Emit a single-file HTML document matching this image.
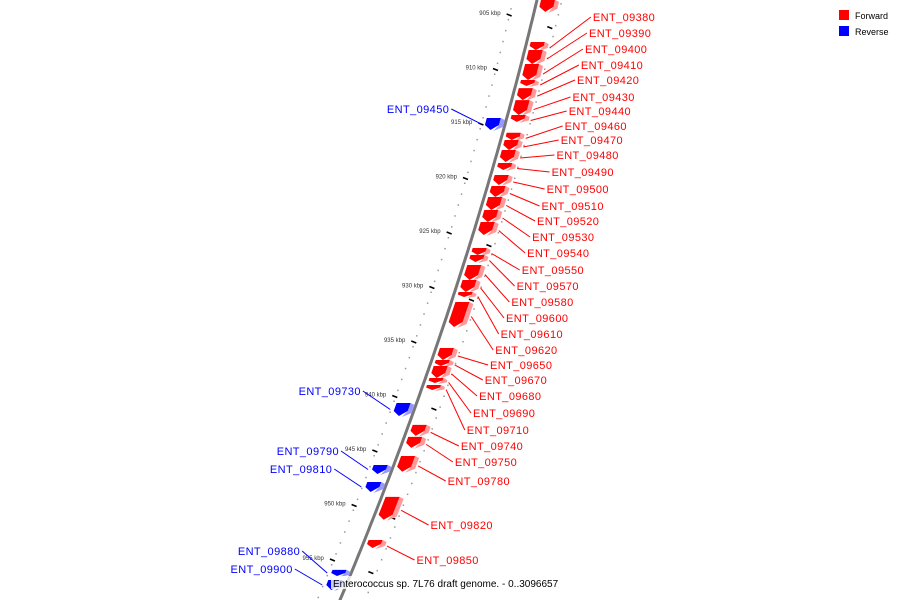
<!DOCTYPE html>
<html><head><meta charset="utf-8"><style>
html,body{margin:0;padding:0;background:#fff;}
svg{display:block;font-family:"Liberation Sans","DejaVu Sans",sans-serif;}
</style></head><body>
<svg id="chart" width="900" height="600" viewBox="0 0 900 600">
<defs>
<linearGradient id="bb" x1="0" x2="1" y1="0" y2="0"><stop offset="0" stop-color="#ccc"/><stop offset="0.5" stop-color="#666"/><stop offset="1" stop-color="#bbb"/></linearGradient>
</defs>
<g id="layer"></g>
<g>
<rect x="839" y="10" width="10" height="10" fill="#f00"/>
<text x="855" y="19" font-size="9" fill="#000">Forward</text>
<rect x="839" y="26" width="10" height="10" fill="#00f"/>
<text x="855" y="35" font-size="9" fill="#000">Reverse</text>
</g>
</svg>
<script>
// ---- data ----
const tickKbp = [905,910,915,920,925,930,935,940,945,950,955];
const fwdNames = ["","ENT_09380","ENT_09390","ENT_09400","ENT_09410","ENT_09420","ENT_09430","ENT_09440","ENT_09460","ENT_09470","ENT_09480","ENT_09490","ENT_09500","ENT_09510","ENT_09520","ENT_09530","ENT_09540","ENT_09550","ENT_09570","ENT_09580","ENT_09600","ENT_09610","ENT_09620","ENT_09650","ENT_09670","ENT_09680","ENT_09690","ENT_09710","ENT_09740","ENT_09750","ENT_09780","ENT_09820","ENT_09850"];
const fwdStart = [903.7,907.57,908.3,909.59,911.06,911.8,912.9,914.27,915.9,916.56,917.48,918.67,919.77,920.78,921.79,922.98,924.08,926.47,927.11,928.03,929.4,930.5,931.42,935.64,936.74,937.29,938.39,939.04,942.7,943.8,945.55,949.3,953.26];
const fwdEnd   = [904.8,908.3,909.59,911.06,911.6,912.9,914.27,914.9,916.56,917.48,918.58,919.31,920.69,921.79,922.98,924.08,925.28,927.11,927.75,929.4,930.5,930.96,933.72,936.74,937.29,938.39,938.85,939.5,943.7,944.8,947.0,951.4,953.99];
const fwdLabelY = [null,17,33,49,65,80,97,111,126,140,155,172,189,206,221,237,253,270,286,302,318,334,350,365,380,396,413,430,446,462,481,525,560];
const revNames = ["ENT_09450","ENT_09730","ENT_09790","ENT_09810","ENT_09880","ENT_09900"];
const revStart = [914.54,940.69,946.38,947.94,956.0,956.93];
const revEnd   = [915.64,941.88,947.2,948.85,956.56,957.84];
const revLabelY = [109,391,451,469,551,569];

// ---- axes ----
const yOf = k => 14 + (k - 905) * 10.9;
const bx = y => 537 - 0.2383*y - 0.00015*y*y;
const NS="http://www.w3.org/2000/svg";
const layer=document.getElementById('layer');
function mk(tag,attrs,parent){const e=document.createElementNS(NS,tag);for(const k in attrs)e.setAttribute(k,attrs[k]);(parent||layer).appendChild(e);return e;}

// dots and minor ticks
for(let k=903;k<=960;k+=1){
  const y=yOf(k);
  const d1=mk('rect',{x:bx(y)-26,y:y+5,width:1.5,height:1.5,fill:'#999'});
  
  
  const d2=mk('rect',{x:bx(y)+24,y:y,width:1.5,height:1.5,fill:'#999'});
  
  
}
for(let k=901.25;k<=960;k+=5){
  const y=yOf(k);
  const t=mk('line',{x1:bx(y)+17,y1:y-1,x2:bx(y)+22,y2:y+1,stroke:'#000','stroke-width':1.5});
  
  
}
tickKbp.forEach(k=>{
  const y=yOf(k);
  const x=bx(y)-27;
  const t=mk('line',{x1:x,y1:y,x2:x+5,y2:y+2,stroke:'#000','stroke-width':1.5});
  
  
  const l=mk('text',{x:x-6,y:y+1,'font-size':6,'text-anchor':'end',fill:'#333'});
  l.textContent=k+' kbp';
  
  
});

// backbone
let pts=[];for(let y=-5;y<=605;y+=5)pts.push(bx(y).toFixed(1)+','+y);
const bb=mk('polyline',{points:pts.join(' '),fill:'none',stroke:'#777','stroke-width':3});



function gene(s,e,dir,name,ly,i){
  const y0=yOf(s), y1=yOf(e);
  const g=mk('g',{});
  
  
  const col=dir>0?'#f00':'#00f', light=dir>0?'#f99':'#99f';
  const tip=Math.min(5,(y1-y0)*0.5);
  let a,b; if(dir>0){a=4;b=18;}else{a=-20;b=-6;}
  const X=(y,d)=>(bx(y)+d).toFixed(1);
  const side=mk('polygon',{points:[X(y0,b),y0,X(y0,b)+'',y0].join(' ')},g);
  side.remove();
  const poly=[X(y0,a)+','+y0, X(y0,b)+','+y0, X(y1-tip,b)+','+(y1-tip), X(y1,(a+b)/2)+','+y1, X(y1-tip,a)+','+(y1-tip)];
  mk('polygon',{points:[X(y0,b)+','+y0, X(y0,b+4)+','+(y0+2), X(y1-tip,b+4)+','+(y1-tip+2), X(y1,(a+b)/2+3)+','+(y1+1), X(y1-tip,b)+','+(y1-tip)].join(' '),fill:light},g);
  mk('polygon',{points:poly.join(' '),fill:col},g);
  if(name){
    const gy=(y0+y1)/2;
    if(dir>0){
      const lx=bx(ly)+60;
      mk('line',{x1:bx(gy)+24,y1:gy+2,x2:lx-2,y2:ly,stroke:'#f00','stroke-width':1},g);
      const t=mk('text',{x:lx,y:ly+4,'font-size':11,fill:'#f00','letter-spacing':0.4},g);
      t.textContent=name;
    }else{
      const lx=bx(ly)-60;
      mk('line',{x1:lx+2,y1:ly,x2:bx(gy)-24,y2:gy,stroke:'#00f','stroke-width':1},g);
      const t=mk('text',{x:lx,y:ly+4,'font-size':11,fill:'#00f','text-anchor':'end','letter-spacing':0.4},g);
      t.textContent=name;
    }
  }
}
fwdNames.forEach((n,i)=>gene(fwdStart[i],fwdEnd[i],1,n,fwdLabelY[i],i));
revNames.forEach((n,i)=>gene(revStart[i],revEnd[i],-1,n,revLabelY[i],i));

const tb=mk('rect',{x:331,y:576,width:240,height:13,fill:'#fff','fill-opacity':0.8});


const title=mk('text',{x:333,y:587,'font-size':10,fill:'#000'});
title.textContent='Enterococcus sp. 7L76 draft genome. - 0..3096657';


</script>
</body></html>
